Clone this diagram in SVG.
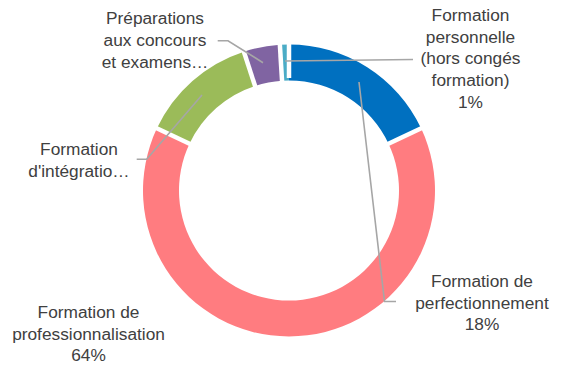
<svg xmlns="http://www.w3.org/2000/svg" width="565" height="368" viewBox="0 0 565 368">
<style>
.lbl{font-family:"Liberation Sans",Arial,sans-serif;font-size:17.3px;fill:#404040;text-anchor:middle}
.lead{fill:none;stroke:#A6A6A6;stroke-width:1.6}
.sep{stroke:#FFFFFF;stroke-width:4.5}
</style>
<rect width="565" height="368" fill="#FFFFFF"/>
<g id="segments">
<g id="seg-perfectionnement"><path fill="#0070C0" d="M289,44.5 A146,146 0 0 1 421.105,128.336 L388.531,143.664 A110,110 0 0 0 289,80.5 Z"/></g>
<g id="seg-professionnalisation"><path fill="#FF7C80" d="M421.105,128.336 A146,146 0 1 1 156.895,128.336 L189.469,143.664 A110,110 0 1 0 388.531,143.664 Z"/></g>
<g id="seg-integration"><path fill="#9BBB59" d="M156.895,128.336 A146,146 0 0 1 243.883,51.645 L255.008,85.883 A110,110 0 0 0 189.469,143.664 Z"/></g>
<g id="seg-preparations"><path fill="#8064A2" d="M243.883,51.645 A146,146 0 0 1 279.833,44.788 L282.093,80.717 A110,110 0 0 0 255.008,85.883 Z"/></g>
<g id="seg-personnelle"><path fill="#4BACC6" d="M279.833,44.788 A146,146 0 0 1 289,44.5 L289,80.5 A110,110 0 0 0 282.093,80.717 Z"/></g>
<g id="separators">
<line class="sep" x1="289" y1="78" x2="289" y2="42"/>
<line class="sep" x1="386.3" y1="144.7" x2="423.4" y2="127.3"/>
<line class="sep" x1="191.7" y1="144.7" x2="154.6" y2="127.3"/>
<line class="sep" x1="255.8" y1="88.3" x2="243.1" y2="49.3"/>
<line class="sep" x1="282.2" y1="83.2" x2="279.7" y2="42.3"/>
</g>
</g>
<g id="connectors">
<polyline class="lead" points="217.7,40.7 228,40.7 263,62.7"/>
<line class="lead" x1="285" y1="61" x2="413" y2="59.5"/>
<polyline class="lead" points="359,82 384.5,301.5 396,301.5"/>
<polyline class="lead" points="136.7,159.3 146.7,159.3 202,95"/>
</g>
<g id="label-preparations">
<text class="lbl" x="155" y="24">Préparations</text>
<text class="lbl" x="155" y="46">aux concours</text>
<text class="lbl" x="155" y="68">et examens…</text>
</g>
<g id="label-personnelle">
<text class="lbl" x="470.5" y="21">Formation</text>
<text class="lbl" x="470.5" y="42.7">personnelle</text>
<text class="lbl" x="470.5" y="64.4">(hors congés</text>
<text class="lbl" x="470.5" y="86">formation)</text>
<text class="lbl" x="470.5" y="108">1%</text>
</g>
<g id="label-integration">
<text class="lbl" x="79" y="155">Formation</text>
<text class="lbl" x="79" y="177">d'intégratio…</text>
</g>
<g id="label-perfectionnement">
<text class="lbl" x="482" y="287">Formation de</text>
<text class="lbl" x="482" y="308.5">perfectionnement</text>
<text class="lbl" x="482" y="330">18%</text>
</g>
<g id="label-professionnalisation">
<text class="lbl" x="88.5" y="318">Formation de</text>
<text class="lbl" x="88.5" y="339.5">professionnalisation</text>
<text class="lbl" x="88.5" y="361">64%</text>
</g>
</svg>
